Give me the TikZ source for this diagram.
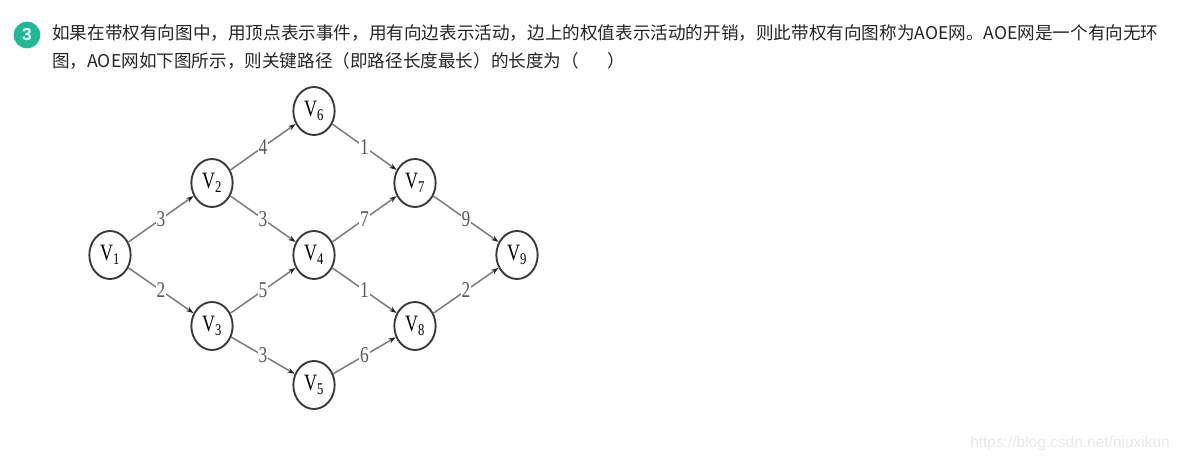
\documentclass[tikz,border=0pt]{standalone}
\usepackage{graphicx}
\usepackage{fontspec}
\setmainfont{Liberation Serif}
\newfontfamily\cjk{Noto Sans CJK SC}
\newfontfamily\websans{Liberation Sans}
\usetikzlibrary{arrows.meta,shapes.geometric}

\definecolor{badgegreen}{HTML}{22B896}
\definecolor{edgegray}{HTML}{7A7A7A}
\definecolor{ringgray}{HTML}{3A3A3A}
\definecolor{wmgray}{HTML}{E8E8E8}
\definecolor{textdark}{HTML}{262626}

% vertex and weight labels (the figure is stretched a bit upright)
\newcommand{\vname}[1]{\scalebox{1}[1.3]{V\textsubscript{#1}}}
\newcommand{\wlab}[1]{\scalebox{1}[1.3]{#1}}

\begin{document}
\begin{tikzpicture}[x=0.75pt, y=-0.75pt,
  event/.style={draw=ringgray, line width=1.4pt, ellipse, minimum width=31pt, minimum height=36pt, inner sep=0pt, font=\fontsize{13.5}{13.5}\selectfont},
  act/.style={draw=edgegray, line width=1.1pt, -{Stealth[length=5.5pt, width=3.8pt, color=black!85]}},
  wt/.style={midway, fill=white, inner sep=0.6pt, text=black!65, font=\fontsize{13}{13}\selectfont},
  badge/.style={circle, fill=badgegreen, text=white, minimum size=20pt, inner sep=0pt, font=\websans\bfseries\fontsize{13}{13}\selectfont},
  question/.style={anchor=base west, inner sep=0pt, text=textdark, font=\cjk\fontsize{13.2}{14}\selectfont}]
  \useasboundingbox[fill=white] (0,0) rectangle (1179,463);

  \node[badge] (num) at (27,35) {3};
  \node[question] (line1) at (52,40) {如果在带权有向图中，用顶点表示事件，用有向边表示活动，边上的权值表示活动的开销，则此带权有向图称为AOE网。AOE网是一个有向无环};
  \node[question] (line2) at (52,68) {图，AOE网如下图所示，则关键路径（即路径长度最长）的长度为（\hspace{1.6em}）};

  % events
  \node[event] (v1) at (110,255) {\vname1};
  \node[event] (v2) at (212,183) {\vname2};
  \node[event] (v3) at (212,326) {\vname3};
  \node[event] (v4) at (314,255) {\vname4};
  \node[event] (v5) at (314,385) {\vname5};
  \node[event] (v6) at (314,111) {\vname6};
  \node[event] (v7) at (415,183) {\vname7};
  \node[event] (v8) at (415,326) {\vname8};
  \node[event] (v9) at (517,255) {\vname9};

  % activities
  \foreach \a/\b/\w in {v1/v2/3, v1/v3/2, v2/v6/4, v2/v4/3, v3/v4/5, v3/v5/3,
                        v6/v7/1, v4/v7/7, v4/v8/1, v5/v8/6, v7/v9/9, v8/v9/2}
    \draw[act] (\a) -- node[wt] {\wlab{\w}} (\b);

  \node[anchor=base east, inner sep=0pt, text=wmgray, font=\websans\fontsize{11.6}{12}\selectfont] (mark) at (1170,448) {https://blog.csdn.net/niuxikun};
\end{tikzpicture}
\end{document}
